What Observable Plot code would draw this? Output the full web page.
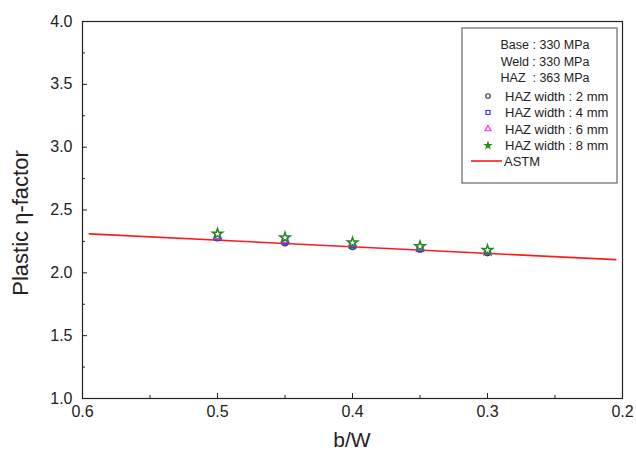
<!DOCTYPE html>
<html>
<head>
<meta charset="utf-8">
<script src="https://cdn.jsdelivr.net/npm/d3@7"></script>
<script src="https://cdn.jsdelivr.net/npm/@observablehq/plot@0.6"></script>
<style>
  html, body { margin: 0; padding: 0; background: #fff; }
  #chart { width: 636px; height: 450px; }
</style>
</head>
<body>
<div id="chart"></div>
<script>
// ---- data ----
const bw = [0.5, 0.45, 0.4, 0.35, 0.3];
const haz2 = [2.28, 2.24, 2.21, 2.19, 2.16];
const haz4 = [2.28, 2.25, 2.22, 2.19, 2.17];
const haz6 = [2.29, 2.26, 2.23, 2.20, 2.17];
const haz8 = [2.31, 2.28, 2.24, 2.21, 2.18];
const astmX = [0.595, 0.205];
const astmY = [2.31, 2.105];
const seriesNames = ["HAZ width : 2 mm", "HAZ width : 4 mm", "HAZ width : 6 mm", "HAZ width : 8 mm"];
const seriesSymbols = ["circle", "square", "triangle", "star"];
const seriesColors = ["#444444", "#3333ff", "#ff22ff", "#1f8a1f"];
const materialLines = ["Base : 330 MPa", "Weld : 330 MPa", "HAZ  : 363 MPa"];
const xLabel = "b/W";
const yLabel = "Plastic η-factor";
const xMajor = [0.6, 0.5, 0.4, 0.3, 0.2];
const xMinor = [0.55, 0.45, 0.35, 0.25];
const yMajor = [1.0, 1.5, 2.0, 2.5, 3.0, 3.5, 4.0];
const yMinor = [1.25, 1.75, 2.25, 2.75, 3.25, 3.75];

const allSeries = [haz2, haz4, haz6, haz8];
const points = [];
allSeries.forEach((vals, s) => vals.forEach((v, i) => points.push({x: bw[i], y: v, s})));
const astm = astmX.map((x, i) => ({x, y: astmY[i]}));

const font = "'Liberation Sans', Arial, Helvetica, sans-serif";

const plot = Plot.plot({
  width: 636,
  height: 450,
  marginLeft: 82,
  marginRight: 14,
  marginTop: 21,
  marginBottom: 52,
  style: {fontFamily: font, fontSize: "16px", color: "#222", background: "#fff"},
  x: {domain: [0.6, 0.2]},
  y: {domain: [1, 4]},
  marks: [
    Plot.axisX({ticks: xMajor, tickFormat: d3.format(".1f"), tickSize: -5, tickPadding: 12, label: null, fontSize: 16}),
    Plot.axisX({ticks: xMinor, tickFormat: () => "", tickSize: -3, label: null}),
    Plot.axisY({ticks: yMajor, tickFormat: d3.format(".1f"), tickSize: -5, tickPadding: 15, label: null, fontSize: 16}),
    Plot.axisY({ticks: yMinor, tickFormat: () => "", tickSize: -3, label: null}),
    Plot.line(astm, {x: "x", y: "y", stroke: "#ff1a1a", strokeWidth: 1.6}),
    ...allSeries.map((_, s) =>
      Plot.dot(points.filter(d => d.s === s), {
        x: "x", y: "y",
        symbol: () => seriesSymbols[s],
        r: s === 3 ? 3.2 : 3,
        stroke: seriesColors[s],
        fill: s === 3 ? "white" : "none",
        strokeWidth: 1.5
      })
    ),
    Plot.frame({stroke: "#222", strokeWidth: 1.2})
  ]
});
document.getElementById("chart").appendChild(plot);

const svg = d3.select(plot);

// ---- axis titles ----
svg.append("text").attr("x", 352).attr("y", 447).attr("text-anchor", "middle")
  .attr("font-family", font).attr("font-size", 21).attr("fill", "#222").text(xLabel);
svg.append("text").attr("transform", "translate(28,223) rotate(-90)").attr("text-anchor", "middle")
  .attr("font-family", font).attr("font-size", 22).attr("fill", "#222").text(yLabel);

// ---- legend ----
const lg = svg.append("g").attr("font-family", font).attr("fill", "#222");
lg.append("rect").attr("x", 462).attr("y", 28).attr("width", 155).attr("height", 155)
  .attr("fill", "white").attr("stroke", "#666").attr("stroke-width", 1.2);
materialLines.forEach((t, i) => {
  lg.append("text").attr("x", 545).attr("y", 45 + i * 16.5).attr("dy", "0.35em")
    .attr("text-anchor", "middle").attr("font-size", 12.5).attr("xml:space", "preserve").text(t);
});
const symMap = {circle: d3.symbolCircle, square: d3.symbolSquare, triangle: d3.symbolTriangle, star: d3.symbolStar};
seriesNames.forEach((name, i) => {
  const cy = 96 + i * 16.5;
  const size = i === 3 ? 11 : 16;
  lg.append("path").attr("transform", `translate(488,${cy})`)
    .attr("d", d3.symbol(symMap[seriesSymbols[i]], size)())
    .attr("fill", i === 3 ? "#5a9a5a" : "none").attr("stroke", seriesColors[i]).attr("stroke-width", 1.2);
  lg.append("text").attr("x", 505).attr("y", cy).attr("dy", "0.35em").attr("text-anchor", "start")
    .attr("font-size", 13).text(name);
});
lg.append("line").attr("x1", 471).attr("x2", 502).attr("y1", 161).attr("y2", 161)
  .attr("stroke", "#ff1a1a").attr("stroke-width", 1.6);
lg.append("text").attr("x", 504).attr("y", 161).attr("dy", "0.35em").attr("text-anchor", "start")
  .attr("font-size", 13).text("ASTM");
</script>
</body>
</html>
